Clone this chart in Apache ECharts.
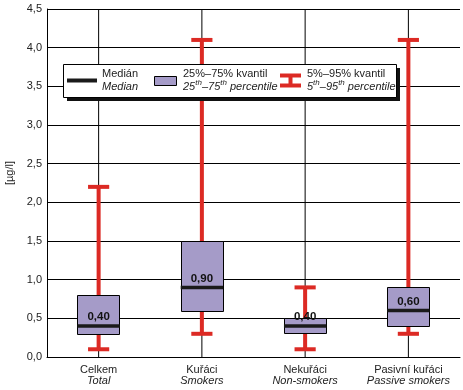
<!DOCTYPE html>
<html><head><meta charset="utf-8">
<script src="https://cdn.jsdelivr.net/npm/echarts@6/dist/echarts.min.js"></script>
<style>html,body{margin:0;padding:0;background:#fff}#c{width:463px;height:390px}</style>
</head><body><div id="c"></div>
<script>
var categories = ['Celkem', 'Kuřáci', 'Nekuřáci', 'Pasivní kuřáci'];
var categoriesEn = ['Total', 'Smokers', 'Non-smokers', 'Passive smokers'];
var p5 = [0.1, 0.3, 0.1, 0.3];
var p25 = [0.3, 0.6, 0.3, 0.4];
var median = [0.4, 0.9, 0.4, 0.6];
var p75 = [0.8, 1.5, 0.5, 0.9];
var p95 = [2.2, 4.1, 0.9, 4.1];
var yMin = 0, yMax = 4.5, yInterval = 0.5;

var FONT = '"Liberation Sans", Arial, sans-serif';
var RED = '#DC2A24', PURPLE = '#A59BC8';

var rows = categories.map(function (c, i) { return [i, p5[i], p25[i], median[i], p75[i], p95[i]]; });

function supText(x, y, parts) {
  var out = [];
  var cx = x;
  var ctx = document.createElement('canvas').getContext('2d');
  parts.forEach(function (p) {
    var f = p[1] ? 'italic 8px ' + FONT : 'italic 11px ' + FONT;
    ctx.font = f;
    out.push({type: 'text', z: 100, x: cx, y: p[1] ? y - 4 : y,
      style: {text: p[0], font: f, fill: '#222', textVerticalAlign: 'middle'}});
    cx += ctx.measureText(p[0]).width;
  });
  return out;
}

var legendChildren = [
  {type: 'rect', z: 100, shape: {x: 67, y: 68, width: 333, height: 33}, style: {fill: '#111'}},
  {type: 'rect', z: 100, shape: {x: 63.5, y: 64.5, width: 333, height: 33}, style: {fill: '#fff', stroke: '#000', lineWidth: 1}},
  {type: 'line', z: 100, shape: {x1: 67, y1: 80.5, x2: 97, y2: 80.5}, style: {stroke: '#1a1a1a', lineWidth: 4}},
  {type: 'text', z: 100, x: 102, y: 74, style: {text: 'Medián', font: '11px ' + FONT, fill: '#222', textVerticalAlign: 'middle'}},
  {type: 'text', z: 100, x: 102, y: 87, style: {text: 'Median', font: 'italic 11px ' + FONT, fill: '#222', textVerticalAlign: 'middle'}},
  {type: 'rect', z: 100, shape: {x: 154.5, y: 76.5, width: 22, height: 9}, style: {fill: PURPLE, stroke: '#000', lineWidth: 1}},
  {type: 'text', z: 100, x: 183, y: 74, style: {text: '25%–75% kvantil', font: '11px ' + FONT, fill: '#222', textVerticalAlign: 'middle'}},
  {type: 'line', z: 100, shape: {x1: 280, y1: 75.5, x2: 301, y2: 75.5}, style: {stroke: RED, lineWidth: 4}},
  {type: 'line', z: 100, shape: {x1: 280, y1: 85.5, x2: 301, y2: 85.5}, style: {stroke: RED, lineWidth: 4}},
  {type: 'line', z: 100, shape: {x1: 290.5, y1: 75, x2: 290.5, y2: 86}, style: {stroke: RED, lineWidth: 4}},
  {type: 'text', z: 100, x: 307, y: 74, style: {text: '5%–95% kvantil', font: '11px ' + FONT, fill: '#222', textVerticalAlign: 'middle'}}
].concat(
  supText(183, 87, [['25', 0], ['th', 1], ['–75', 0], ['th', 1], [' percentile', 0]]),
  supText(307, 87, [['5', 0], ['th', 1], ['–95', 0], ['th', 1], [' percentile', 0]])
);

var chart = echarts.init(document.getElementById('c'), null, {renderer: 'canvas'});
chart.setOption({
  animation: false,
  backgroundColor: '#fff',
  grid: {left: 47, right: 3, top: 9, bottom: 33, containLabel: false},
  xAxis: {
    type: 'category', data: categories, boundaryGap: true,
    axisLine: {lineStyle: {color: '#000', width: 1}},
    axisTick: {show: false},
    splitLine: {show: false},
    axisLabel: {
      margin: 7, interval: 0,
      formatter: function (v, i) { return '{a|' + v + '}\n{b|' + categoriesEn[i] + '}'; },
      rich: {
        a: {fontFamily: FONT, fontSize: 11, color: '#222', lineHeight: 11},
        b: {fontFamily: FONT, fontSize: 11, fontStyle: 'italic', color: '#222', lineHeight: 11}
      }
    }
  },
  yAxis: {
    type: 'value', min: yMin, max: yMax, interval: yInterval,
    axisLine: {show: true, lineStyle: {color: '#000', width: 1}},
    axisTick: {show: false},
    splitLine: {show: true, lineStyle: {color: '#000', width: 1}},
    axisLabel: {
      margin: 5, fontFamily: FONT, fontSize: 11, color: '#222',
      formatter: function (v) { return v.toFixed(1).replace('.', ','); }
    }
  },
  series: [{
    type: 'custom',
    data: rows,
    encode: {x: 0, y: [1, 2, 3, 4, 5]},
    z: 3,
    renderItem: function (params, api) {
      var i = api.value(0);
      var band = api.size([1, 0])[0];
      var boxW = band * 0.41, capW = band * 0.205;
      var top = api.coord([i, yMax]), bot = api.coord([i, yMin]);
      var lo = api.coord([i, api.value(1)]);
      var q1 = api.coord([i, api.value(2)]);
      var md = api.coord([i, api.value(3)]);
      var q3 = api.coord([i, api.value(4)]);
      var hi = api.coord([i, api.value(5)]);
      var x = md[0];
      return {
        type: 'group',
        children: [
          {type: 'line', shape: {x1: x, y1: top[1], x2: x, y2: bot[1]}, style: {stroke: '#000', lineWidth: 1}},
          {type: 'line', shape: {x1: x, y1: lo[1], x2: x, y2: hi[1]}, style: {stroke: RED, lineWidth: 4}},
          {type: 'line', shape: {x1: x - capW / 2, y1: lo[1], x2: x + capW / 2, y2: lo[1]}, style: {stroke: RED, lineWidth: 4}},
          {type: 'line', shape: {x1: x - capW / 2, y1: hi[1], x2: x + capW / 2, y2: hi[1]}, style: {stroke: RED, lineWidth: 4}},
          {type: 'rect', shape: {x: Math.round(x - boxW / 2) + 0.5, y: Math.round(q3[1]) + 0.5, width: Math.round(boxW), height: Math.round(q1[1] - q3[1])},
            style: {fill: PURPLE, stroke: '#000', lineWidth: 1}},
          {type: 'line', shape: {x1: x - boxW / 2, y1: md[1], x2: x + boxW / 2, y2: md[1]}, style: {stroke: '#1a1a1a', lineWidth: 3.5}},
          {type: 'text', style: {x: x, y: md[1] - 9, text: api.value(3).toFixed(2).replace('.', ','),
            font: 'bold 11.5px ' + FONT, fill: '#111', textAlign: 'center', textVerticalAlign: 'middle'}}
        ]
      };
    }
  }],
  graphic: [
    {type: 'text', rotation: Math.PI / 2, x: 10, y: 173,
      style: {text: '[µg/l]', font: '11px ' + FONT, fill: '#222', textAlign: 'center', textVerticalAlign: 'middle'}},
    {type: 'group', z: 100, children: legendChildren}
  ]
});
</script></body></html>
